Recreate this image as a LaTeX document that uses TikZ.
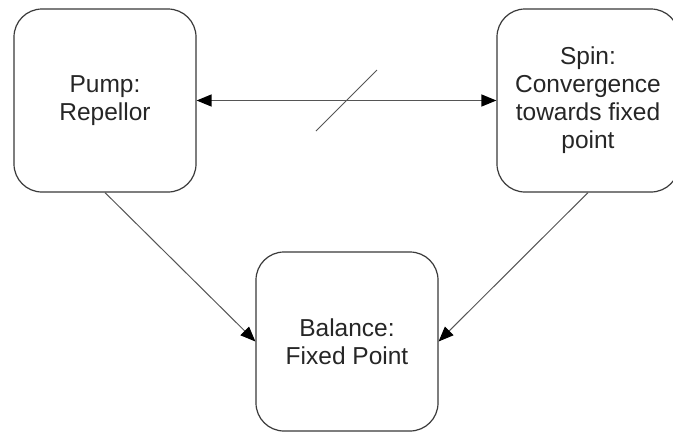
\documentclass[tikz,border=0pt]{standalone}
\usepackage{fontspec}
\setmainfont{Liberation Sans}
\usetikzlibrary{arrows.meta}
\definecolor{boxline}{HTML}{3A3A3A}
\definecolor{conline}{HTML}{555555}
\begin{document}
\begin{tikzpicture}[x=1pt,y=-1pt,
  statebox/.style={draw=boxline, line width=1.2pt, rounded corners=28pt, fill=white,
    minimum width=182pt, align=center, inner sep=0pt,
    font=\fontsize{24.5}{28}\selectfont, text=black!85},
  conn/.style={draw=conline, line width=1.2pt},
  tip/.style={-{Triangle[length=15pt,width=12pt,black]}}]
\clip (0,0) rectangle (673,432);
\fill[white] (0,0) rectangle (673,432);
\node[statebox, minimum height=183pt] (L) at (105,100.5) {Pump:\\Repellor};
\node[statebox, minimum height=183pt] (R) at (588,100.5) {Spin:\\Convergence\\towards fixed\\point};
\node[statebox, minimum height=179pt] (B) at (347,341.5) {Balance:\\Fixed Point};
\draw[conn, line width=1.4pt, {Triangle[length=15pt,width=12pt,black]}-{Triangle[length=15pt,width=12pt,black]}] (L.east) -- (R.west);
\coordinate (s1) at (316,131);
\coordinate (s2) at (377,70);
\draw[conn, line width=1pt] (s1) -- (s2);
\draw[conn, line width=1pt, tip] (L.south) -- (B.west);
\draw[conn, line width=1pt, tip] (R.south) -- (B.east);
\end{tikzpicture}
\end{document}
